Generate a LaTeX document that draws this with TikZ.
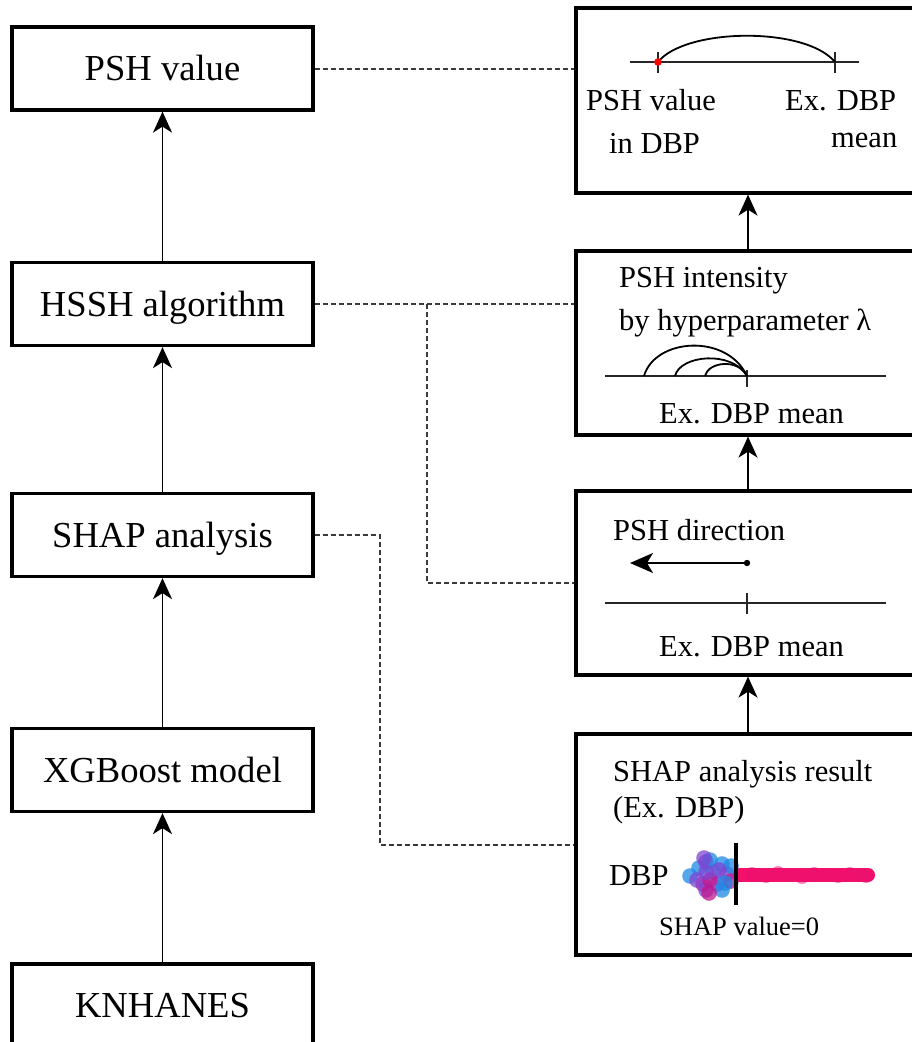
\documentclass[tikz,border=0pt]{standalone}
\usepackage{fontspec}
\setmainfont{Liberation Serif}
\usetikzlibrary{arrows.meta,calc}

\definecolor{shapblue}{HTML}{1E88E5}
\definecolor{shappink}{HTML}{F5106A}
\definecolor{shappurple}{HTML}{7E45D2}
\definecolor{shapmag}{HTML}{C0168E}
\definecolor{dashgray}{HTML}{3A3A3A}

\begin{document}
\begin{tikzpicture}[x=1pt,y=-1pt,
  lbox/.style={draw, line width=3.2pt, minimum width=301pt, minimum height=83pt,
    inner sep=0pt, text height=24pt, text depth=0pt,
    font=\fontsize{36.6}{43}\selectfont},
  rbox/.style={draw, line width=3.2pt, minimum width=354pt, inner sep=0pt},
  txt/.style={inner sep=0pt, anchor=base west, font=\fontsize{30.5}{36}\selectfont},
  smalltxt/.style={inner sep=0pt, anchor=base west, font=\fontsize{26.5}{32}\selectfont},
  arr/.style={line width=1.8pt, -{Stealth[length=21pt, width=19pt, inset=6pt]}},
  link/.style={line width=2pt, dashgray, dash pattern=on 5pt off 3pt},
  axis/.style={line width=1.8pt, black!85},
  curve/.style={line width=1.8pt},
]
\useasboundingbox (0,0) rectangle (912,1042);
\clip (0,0) rectangle (912,1042);

% ---------- pipeline on the left ----------
\node[lbox] (psh)  at (162.5,68.5) {PSH value};
\node[lbox] (hssh) at (162.5,304)  {HSSH algorithm};
\node[lbox] (shap) at (162.5,535)  {SHAP analysis};
\node[lbox] (xgb)  at (162.5,770)  {XGBoost model};
\node[lbox] (kn)   at (162.5,1005.5) {KNHANES};

\draw[arr] (kn.north)   -- (xgb.south);
\draw[arr] (xgb.north)  -- (shap.south);
\draw[arr] (shap.north) -- (hssh.south);
\draw[arr] (hssh.north) -- (psh.south);

% ---------- illustration panels on the right ----------
\node[rbox, minimum height=185pt] (r1) at (753,100.5) {};
\node[rbox, minimum height=184pt] (r2) at (753,343)   {};
\node[rbox, minimum height=184pt] (r3) at (753,583)   {};
\node[rbox, minimum height=221pt] (r4) at (753,844.5) {};

\coordinate (ax) at (748,0);
\draw[arr] (r4.north -| ax) -- (r3.south -| ax);
\draw[arr] (r3.north -| ax) -- (r2.south -| ax);
\draw[arr] (r2.north -| ax) -- (r1.south -| ax);

% ---------- dashed links ----------
\coordinate (j1) at (427,0);
\coordinate (j2) at (380,0);
\draw[link] (psh.east) -- (psh.east -| r1.west);
\draw[link] (hssh.east) -- (hssh.east -| r2.west);
\draw[link] (hssh.east -| j1) |- (r3.west);
\draw[link] (shap.east) -- (shap.east -| j2) |- (r4.west);

% ---------- panel 1: PSH value ----------
\coordinate (p1a) at (630,62);
\coordinate (p1b) at (859,62);
\coordinate (p1v) at (658,62);
\coordinate (p1m) at (835,62);
\draw[axis] (p1a) -- (p1b);
\draw[axis] ($(p1v)+(0,-10)$) -- ($(p1v)+(0,11)$);
\draw[axis] ($(p1m)+(0,-10)$) -- ($(p1m)+(0,11)$);
\draw[curve] (p1v) .. controls (685,28) and (805,26) .. (p1m);
\fill[red] (p1v) circle (3.8pt);
\node[txt] (t1a) at (586,110) {PSH value};
\node[txt] (t1b) at (609,153) {in DBP};
\node[txt] (t1c) at (785,110) {Ex. DBP};
\node[txt] (t1d) at (831,147) {mean};

% ---------- panel 2: PSH intensity ----------
\node[txt] (t2a) at (619,287) {PSH intensity};
\node[txt] (t2b) at (619,330) {by hyperparameter λ};
\coordinate (p2m) at (747,376);
\draw[axis] (605,376) -- (886,376);
\draw[axis] ($(p2m)+(0,-6)$) -- ($(p2m)+(0,11)$);
\draw[curve] (644,376) .. controls (655,338) and (727,333) .. (p2m);
\draw[curve] (675,376) .. controls (680,355) and (732,350) .. (p2m);
\draw[curve] (705,376) .. controls (708,362) and (738,358) .. (p2m);
\node[txt] (t2c) at (659,423) {Ex. DBP mean};

% ---------- panel 3: PSH direction ----------
\node[txt] (t3a) at (613,540) {PSH direction};
\coordinate (p3s) at (747,563);
\coordinate (p3e) at (630,563);
\draw[line width=1.8pt, -{Stealth[length=23pt, width=20pt, inset=6pt]}] (p3s) -- (p3e);
\fill (p3s) circle (3.2pt);
\coordinate (p3m) at (747,603);
\draw[axis] (605,603) -- (886,603);
\draw[axis] ($(p3m)+(0,-10)$) -- ($(p3m)+(0,11)$);
\node[txt] (t3c) at (659,656) {Ex. DBP mean};

% ---------- panel 4: SHAP analysis result ----------
\node[txt] (t4a) at (613,781) {SHAP analysis result};
\node[txt] (t4b) at (613,817) {(Ex. DBP)};
\node[txt] (t4c) at (609,885) {DBP};
% positive side of the beeswarm
\draw[shappink, line width=14pt, line cap=round] (740,875) -- (868,875);
\foreach \x/\y in {752/874,766/876,778/873,790/875,802/877,814/874,826/875,
                   838/876,850/874,860/875,866/876}
  \fill[shappink!80!shapmag, opacity=0.5] (\x,\y) circle (7pt);
% negative side of the beeswarm
\foreach \x/\y/\c in {690/876/shapblue,699/868/shapblue,706/862/shappurple,
                      710/860/shapblue,703/884/shapmag,706/890/shappurple,
                      713/872/shapblue,717/884/shappurple,722/864/shapblue,
                      722/890/shapblue,727/874/shappurple,731/866/shapblue,
                      731/881/shapmag,697/880/shappurple,710/880/shapmag,
                      719/870/shappurple,706/872/shappurple,725/883/shapblue,
                      709/893/shapmag,704/858/shappurple}
  \fill[\c, opacity=0.75] (\x,\y) circle (7.8pt);
\coordinate (z0) at (736,843);
\draw[line width=4.2pt] (z0) -- ++(0,62);
\node[smalltxt] (t4d) at (659,935) {SHAP value=0};
\end{tikzpicture}
\end{document}
